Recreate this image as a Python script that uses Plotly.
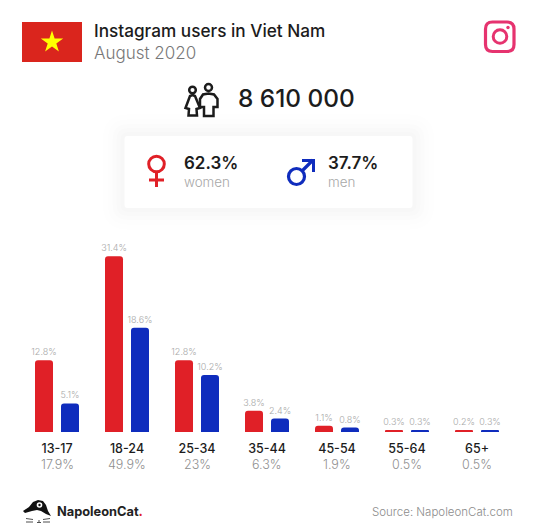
import plotly.graph_objects as go

W, H = 535, 531
age_groups = ["13-17", "18-24", "25-34", "35-44", "45-54", "55-64", "65+"]
age_totals = ["17.9%", "49.9%", "23%", "6.3%", "1.9%", "0.5%", "0.5%"]
women = [12.8, 31.4, 12.8, 3.8, 1.1, 0.3, 0.2]
men = [5.1, 18.6, 10.2, 2.4, 0.8, 0.3, 0.3]

RED, BLUE, PINK = "#e02027", "#0f2cbd", "#e6336f"
DARK, GREY = "#1c1c1c", "#a8a8a8"
FONT = "Inter"


def X(p):
    return p / W


def Y(p):
    return 1 - p / H


def P(x, y):
    return f"{X(x):.5f},{Y(y):.5f}"


def path(d_points, close=True):
    s = "M " + " L ".join(P(x, y) for x, y in d_points)
    return s + (" Z" if close else "")


def rrect(x0, y0, x1, y1, r):
    return (f"M {P(x0 + r, y0)} L {P(x1 - r, y0)} Q {P(x1, y0)} {P(x1, y0 + r)} L {P(x1, y1 - r)} "
            f"Q {P(x1, y1)} {P(x1 - r, y1)} L {P(x0 + r, y1)} Q {P(x0, y1)} {P(x0, y1 - r)} "
            f"L {P(x0, y0 + r)} Q {P(x0, y0)} {P(x0 + r, y0)} Z")


shapes = []


def add_path(d, fill=None, line=None, width=0):
    shapes.append(dict(type="path", xref="paper", yref="paper", path=d,
                       fillcolor=fill if fill else "rgba(0,0,0,0)",
                       line=dict(color=line if line else "rgba(0,0,0,0)", width=width)))


def add_poly(pts, fill=None, line=None, width=0, close=True):
    add_path(path(pts, close), fill, line, width)


def add_circle(cx, cy, r, fill=None, line=None, width=0):
    shapes.append(dict(type="circle", xref="paper", yref="paper", x0=X(cx - r), x1=X(cx + r), y0=Y(cy + r), y1=Y(cy - r),
                       fillcolor=fill if fill else "rgba(0,0,0,0)",
                       line=dict(color=line if line else "rgba(0,0,0,0)", width=width)))


def add_line(x0, y0, x1, y1, color, width):
    shapes.append(dict(type="line", xref="paper", yref="paper", x0=X(x0), x1=X(x1), y0=Y(y0), y1=Y(y1),
                       line=dict(color=color, width=width)))


# flag
add_poly([(22, 22), (82, 22), (82, 62), (22, 62)], fill="#da251d")
add_poly([(52, 30.5), (54.6, 38.5), (63.2, 38.5), (56.3, 43.5), (58.9, 51.5), (52, 46.5), (45.1, 51.5), (47.7, 43.5), (40.8, 38.5), (49.4, 38.5)], fill="#ffff00")

# instagram icon
add_path(rrect(485.5, 22, 514, 51.5, 7), line=PINK, width=3.2)
add_circle(500, 36.5, 6.8, line=PINK, width=3)
add_circle(508, 27.5, 1.7, fill=PINK)

# people icon
add_circle(192.5, 90, 3.3, line=DARK, width=2.5)
add_circle(208.5, 87.5, 3.5, line=DARK, width=2.5)
add_poly([(192.5, 95), (195, 96), (200, 108), (196.5, 109), (197, 115.5), (188.5, 115.5), (189, 109), (185.5, 108), (190, 96)], line=DARK, width=2.5)
add_poly([(208.5, 93.5), (214, 94.5), (217.5, 99), (217.5, 107), (213.5, 107), (213.5, 116), (204, 116), (204, 107), (200, 107), (200, 99), (203, 94.5)], line=DARK, width=2.5)

# card shadow and card
for g, a in [(22, 0.004), (17, 0.005), (12, 0.006), (8, 0.008), (4, 0.009)]:
    add_path(rrect(124.5 - g, 136 - g, 412.5 + g, 208 + g, 3 + g), fill=f"rgba(0,0,0,{a})")
add_path(rrect(124.5, 136, 412.5, 208, 3), fill="#ffffff")

# female symbol
add_circle(156.5, 164, 7.8, line=RED, width=3)
add_line(156.5, 172, 156.5, 187, RED, 3)
add_line(149, 180, 164, 180, RED, 3)

# male symbol
add_circle(296.5, 176.5, 8, line=BLUE, width=3.2)
add_line(302, 171, 313, 160, BLUE, 3.2)
add_poly([(302, 159), (315, 159), (315, 172), (312, 172), (312, 162), (302, 162)], fill=BLUE)

# logo
add_poly([(23, 511), (29, 507), (33, 502), (38, 500), (43, 501), (46, 505), (48, 511), (51, 516), (46, 514), (41, 511), (37, 510), (32, 511), (25, 513)], fill="#111111")
add_circle(39.5, 505, 2.8, fill="#ffffff")
add_circle(39.5, 505, 1.2, fill="#111111")
for a, b, c, d in [(26, 518.5, 33, 519.5), (26, 522, 33, 522), (37, 522.5, 41, 522.5), (39, 520, 39, 522), (43, 519.5, 50, 518.5), (43, 522, 50, 522)]:
    add_line(a, b, c, d, "#222222", 0.8)


def note(x, y, text, size, color=DARK, weight=400, anchor="left"):
    return dict(xref="paper", yref="paper", x=X(x), y=Y(y), xanchor=anchor, yanchor="middle", showarrow=False,
                text=text, font=dict(family=FONT, size=size, color=color, weight=weight))


annotations = [
    note(91.5, 30.5, "Instagram users in Viet Nam", 17.2, weight=500),
    note(91.5, 52.5, "August 2020", 17, color="#777777", weight=300),
    note(235.5, 97.5, "8 610 000", 24.4, weight=500),
    note(182, 162.5, "62.3%", 17, weight=600),
    note(182, 182.5, "women", 13.4, color=GREY, weight=300),
    note(326, 162.5, "37.7%", 17, weight=600),
    note(326, 182.5, "men", 13.4, color=GREY, weight=300),
    note(515, 512, "Source: NapoleonCat.com", 11.5, color="#8c8c8c", weight=300, anchor="right"),
    note(55, 511, f'<b>NapoleonCat<span style="color:{RED}">.</span></b>', 12.8, color="#222222", weight=600),
]
for a, t in zip(age_groups, age_totals):
    annotations.append(dict(xref="x", yref="paper", x=a, y=Y(464.5), xanchor="center", yanchor="middle", showarrow=False,
                            text=t, font=dict(family=FONT, size=12.5, color="#8f8f8f", weight=300)))

fig = go.Figure()
for name, vals, color in [("women", women, RED), ("men", men, BLUE)]:
    fig.add_bar(name=name, x=age_groups, y=vals, marker=dict(color=color, line=dict(width=0)),
                text=[f"{v}%" for v in vals], textposition="outside", cliponaxis=False, constraintext="none",
                textfont=dict(family=FONT, size=9, color=GREY, weight=300))

fig.update_layout(
    width=W, height=H, autosize=False, showlegend=False,
    margin=dict(l=0, r=0, t=0, b=0), paper_bgcolor="#ffffff", plot_bgcolor="#ffffff",
    barmode="group", bargap=18 / 70, bargroupgap=8 / 26, barcornerradius=3,
    shapes=shapes, annotations=annotations,
    xaxis=dict(domain=[X(22), X(512)], type="category", categoryorder="array", categoryarray=age_groups,
               tickmode="array", tickvals=age_groups, ticktext=age_groups,
               showgrid=False, zeroline=False, showline=False, ticks="outside", ticklen=5, tickcolor="rgba(0,0,0,0)",
               tickfont=dict(family=FONT, size=12.5, color=DARK, weight=500)),
    yaxis=dict(domain=[Y(432), Y(240)], range=[0, 192 / 5.6], visible=False),
)
fig.write_html("out.html", post_script="document.body.style.margin='0';", config={"displayModeBar": False})
